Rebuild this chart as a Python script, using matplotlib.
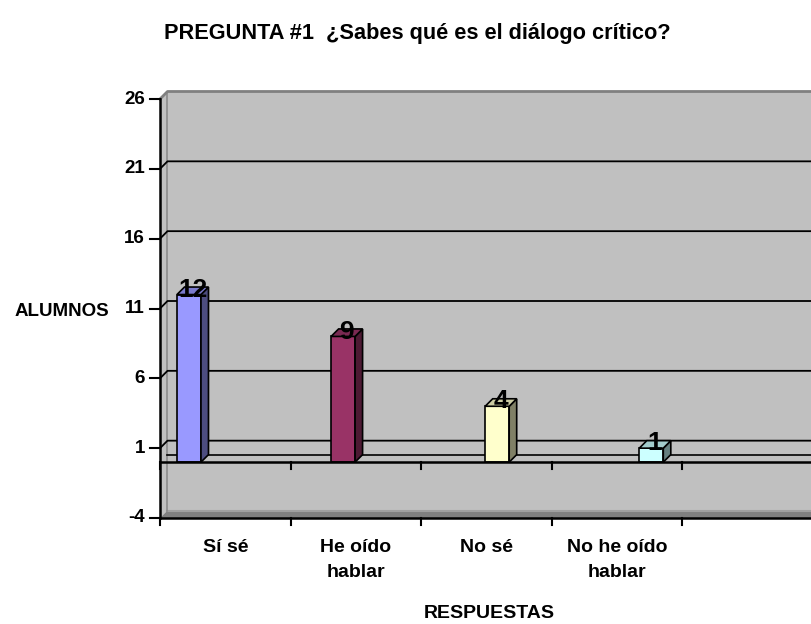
import matplotlib
matplotlib.use('Agg')
import matplotlib.pyplot as plt
from matplotlib.patches import Polygon, Rectangle
from matplotlib.colors import to_rgb

# Data
titulo = 'PREGUNTA #1  ¿Sabes qué es el diálogo crítico?'
categorias = ['Sí sé', 'He oído\nhablar', 'No sé', 'No he oído\nhablar', '']
alumnos = [12, 9, 4, 1]
colores = ['#9999FF', '#993366', '#FFFFCC', '#CCFFFF']
y_ticks = [-4, 1, 6, 11, 16, 21, 26]
y_label = 'ALUMNOS'
x_label = 'RESPUESTAS'

ARIAL = ['Liberation Sans', 'DejaVu Sans']

W, H = 812, 624
fig = plt.figure(figsize=(W / 100, H / 100), dpi=100)

# plot area placed in pixels (front plane of the 3D box)
x0, x1 = 160, 813
ytop, ybot = 99, 518
ax = fig.add_axes([x0 / W, 1 - ybot / H, (x1 - x0) / W, (ybot - ytop) / H])
ax.set_xlim(0, len(categorias))
ax.set_ylim(y_ticks[0], y_ticks[-1])
ax.axis('off')

ymin, ymax = y_ticks[0], y_ticks[-1]
ncat = len(categorias)
px_x = (x1 - x0) / ncat
px_y = (ybot - ytop) / (ymax - ymin)
dx = 7.5 / px_x      # depth offset in data units
dy = 7.5 / px_y

# back wall, side wall and floor band
ax.add_patch(Polygon([(dx, ymin + dy), (ncat + dx, ymin + dy), (ncat + dx, ymax + dy), (dx, ymax + dy)],
                     closed=True, fc='#C0C0C0', ec='none', clip_on=False, zorder=1))
ax.add_patch(Polygon([(0, ymin), (dx, ymin + dy), (dx, ymax + dy), (0, ymax)],
                     closed=True, fc='#C0C0C0', ec='none', clip_on=False, zorder=1))
ax.add_patch(Polygon([(0, ymin), (ncat, ymin), (ncat + dx, ymin + dy), (dx, ymin + dy)],
                     closed=True, fc='#808080', ec='none', clip_on=False, zorder=2))
ax.plot([dx, ncat + dx], [ymin + dy, ymin + dy], color='#A0A0A0', lw=1.5, clip_on=False, zorder=2)
ax.plot([dx, dx], [ymin + dy, ymax + dy], color='#8A8A8A', lw=1.2, clip_on=False, zorder=2)
ax.plot([0, dx, ncat + dx], [ymax, ymax + dy, ymax + dy], color='#808080', lw=2, clip_on=False, zorder=2)

# gridlines on the back wall
for v in y_ticks[1:-1]:
    ax.plot([0, dx, ncat + dx], [v, v + dy, v + dy], color='black', lw=1.3, clip_on=False, zorder=3)
ax.plot([dx, ncat + dx], [dy, dy], color='black', lw=1.2, clip_on=False, zorder=3)

# bars
w = 24 / px_x
for i, (v, c) in enumerate(zip(alumnos, colores)):
    l = 0.13 + 1.18 * i
    r = l + w
    rgb = to_rgb(c)
    side = tuple(k * 0.5 for k in rgb)
    top = tuple(k * 0.8 for k in rgb)
    ax.add_patch(Rectangle((l, 0), w, v, fc=c, ec='black', lw=1.2, zorder=5, clip_on=False))
    ax.add_patch(Polygon([(r, 0), (r + dx, dy), (r + dx, v + dy), (r, v)], closed=True,
                         fc=side, ec='black', lw=1.2, zorder=5, clip_on=False))
    ax.add_patch(Polygon([(l, v), (r, v), (r + dx, v + dy), (l + dx, v + dy)], closed=True,
                         fc=top, ec='black', lw=1.2, zorder=5, clip_on=False))
    ax.text(l + w / 2 + dx / 2, v + 0.35, str(v), ha='center', va='center', fontsize=19,
            fontweight='bold', family=ARIAL, zorder=7)

# front zero line with ticks
ax.plot([0, ncat], [0, 0], color='black', lw=1.8, clip_on=False, zorder=6)
tk_y = 7 / px_y
for k in range(ncat + 1):
    ax.plot([k, k], [0, -tk_y], color='black', lw=1.5, clip_on=False, zorder=6)

# value axis
ax.plot([0, 0], [ymin, ymax], color='black', lw=1.8, clip_on=False, zorder=6)
tk_x = 10 / px_x
for v in y_ticks:
    ax.plot([-tk_x, 0], [v, v], color='black', lw=1.5, clip_on=False, zorder=6)
    ax.text(-15 / px_x, v, str(v), ha='right', va='center', fontsize=13.5,
            fontweight='bold', family=ARIAL)

# category axis at the bottom
ax.plot([0, ncat], [ymin, ymin], color='black', lw=1.8, clip_on=False, zorder=6)
for k in range(ncat + 1):
    ax.plot([k, k], [ymin, ymin - tk_y], color='black', lw=1.5, clip_on=False, zorder=6)
for k, lab in enumerate(categorias):
    ax.text(k + 0.5, ymin - 21 / px_y, lab, ha='center', va='top', fontsize=14,
            fontweight='bold', family=ARIAL, linespacing=1.6)

fig.text(417 / W, 1 - 33 / H, titulo, ha='center', va='center', fontsize=15.7,
         fontweight='bold', family=ARIAL)
fig.text(15 / W, 1 - 311 / H, y_label, ha='left', va='center', fontsize=13.5,
         fontweight='bold', family=ARIAL)
fig.text(489 / W, 1 - 613 / H, x_label, ha='center', va='center', fontsize=14,
         fontweight='bold', family=ARIAL)

fig.savefig('out.png', dpi=100)
